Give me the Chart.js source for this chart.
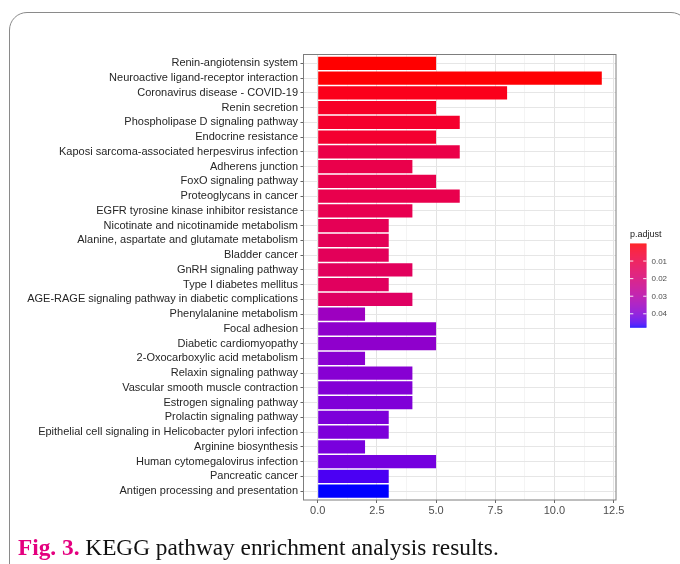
<!DOCTYPE html>
<html>
<head>
<meta charset="utf-8">
<script src="https://cdn.jsdelivr.net/npm/chart.js@4/dist/chart.umd.min.js"></script>
<style>
  html, body { margin: 0; padding: 0; background: #ffffff; }
  #wrap { position: relative; width: 680px; height: 564px; overflow: hidden; }
  #frame {
    position: absolute; left: 9px; top: 12px; width: 680px; height: 600px;
    border: 1px solid #8a8a8a; border-radius: 18px; box-sizing: border-box;
  }
  #plot { position: absolute; left: 0; top: 0; }
  #caption {
    position: absolute; left: 18px; top: 534px;
    font-family: "Liberation Serif", "Times New Roman", serif; font-size: 23.3px;
    color: #111111; white-space: nowrap;
  }
  #caption b { color: #e4007f; }
</style>
</head>
<body>
<div id="wrap">
  <div id="frame"></div>
  <canvas id="plot" width="680" height="564"></canvas>
  <div id="caption"><b>Fig. 3.</b> KEGG pathway enrichment analysis results.</div>
</div>
<script>
// KEGG pathways, top to bottom
const categories = [
  "Renin-angiotensin system",
  "Neuroactive ligand-receptor interaction",
  "Coronavirus disease - COVID-19",
  "Renin secretion",
  "Phospholipase D signaling pathway",
  "Endocrine resistance",
  "Kaposi sarcoma-associated herpesvirus infection",
  "Adherens junction",
  "FoxO signaling pathway",
  "Proteoglycans in cancer",
  "EGFR tyrosine kinase inhibitor resistance",
  "Nicotinate and nicotinamide metabolism",
  "Alanine, aspartate and glutamate metabolism",
  "Bladder cancer",
  "GnRH signaling pathway",
  "Type I diabetes mellitus",
  "AGE-RAGE signaling pathway in diabetic complications",
  "Phenylalanine metabolism",
  "Focal adhesion",
  "Diabetic cardiomyopathy",
  "2-Oxocarboxylic acid metabolism",
  "Relaxin signaling pathway",
  "Vascular smooth muscle contraction",
  "Estrogen signaling pathway",
  "Prolactin signaling pathway",
  "Epithelial cell signaling in Helicobacter pylori infection",
  "Arginine biosynthesis",
  "Human cytomegalovirus infection",
  "Pancreatic cancer",
  "Antigen processing and presentation"
];

// gene count per pathway
const geneCounts = [5, 12, 8, 5, 6, 5, 6, 4, 5, 6, 4, 3, 3, 3, 4, 3, 4, 2, 5, 5, 2, 4, 4, 4, 3, 3, 2, 5, 3, 3];

// adjusted p-value per pathway (fill colour)
const pAdjust = [
  0.00002, 0.0003, 0.0025, 0.0043, 0.0053, 0.0058, 0.0105, 0.0110, 0.0113, 0.0115,
  0.0120, 0.0132, 0.0136, 0.0140, 0.0146, 0.0150, 0.0158, 0.0354, 0.0378, 0.0378,
  0.0387, 0.0392, 0.0397, 0.0402, 0.0406, 0.0406, 0.0411, 0.0416, 0.0454, 0.0478
];

const countTicks = [0, 2.5, 5, 7.5, 10, 12.5];
const pTicks = [0.01, 0.02, 0.03, 0.04];

// ---- red -> blue gradient interpolated in CIELAB ----
const WHITE = [0.95047, 1.0, 1.08883];
function toLin(c) { c /= 255; return c <= 0.04045 ? c / 12.92 : Math.pow((c + 0.055) / 1.055, 2.4); }
function fromLin(c) {
  c = c <= 0.0031308 ? 12.92 * c : 1.055 * Math.pow(c, 1 / 2.4) - 0.055;
  return Math.round(Math.max(0, Math.min(1, c)) * 255);
}
function rgbToLab(rgb) {
  const [R, G, B] = rgb.map(toLin);
  const X = (0.4124 * R + 0.3576 * G + 0.1805 * B) / WHITE[0];
  const Y = (0.2126 * R + 0.7152 * G + 0.0722 * B) / WHITE[1];
  const Z = (0.0193 * R + 0.1192 * G + 0.9505 * B) / WHITE[2];
  const f = t => t > 0.008856 ? Math.cbrt(t) : 7.787 * t + 16 / 116;
  const fx = f(X), fy = f(Y), fz = f(Z);
  return [116 * fy - 16, 500 * (fx - fy), 200 * (fy - fz)];
}
function labToRgb(lab) {
  const fy = (lab[0] + 16) / 116, fx = fy + lab[1] / 500, fz = fy - lab[2] / 200;
  const g = t => t * t * t > 0.008856 ? t * t * t : (t - 16 / 116) / 7.787;
  const X = g(fx) * WHITE[0], Y = g(fy) * WHITE[1], Z = g(fz) * WHITE[2];
  const R = 3.2406 * X - 1.5372 * Y - 0.4986 * Z;
  const G = -0.9689 * X + 1.8758 * Y + 0.0415 * Z;
  const B = 0.0557 * X - 0.2040 * Y + 1.0570 * Z;
  return [fromLin(R), fromLin(G), fromLin(B)];
}
const LAB_LOW = rgbToLab([255, 0, 0]);
const LAB_HIGH = rgbToLab([0, 0, 255]);
const P_MIN = Math.min(...pAdjust), P_MAX = Math.max(...pAdjust);
function pColor(p) {
  const t = Math.max(0, Math.min(1, (p - P_MIN) / (P_MAX - P_MIN)));
  const lab = LAB_LOW.map((v, i) => v + (LAB_HIGH[i] - v) * t);
  const c = labToRgb(lab);
  return `rgb(${c[0]},${c[1]},${c[2]})`;
}

// ---- layout of the plotting panel ----
const PANEL = { left: 303.5, right: 616, top: 54.5, bottom: 500 };
const TICK_FONT = { family: "'Liberation Sans', Arial, sans-serif", size: 11 };

// minor grid positions halfway between the major count ticks
const countMinor = countTicks.slice(0, -1).map((v, i) => (v + countTicks[i + 1]) / 2);

const panelBorder = {
  id: 'panelBorder',
  afterDatasetsDraw(chart) {
    const a = chart.chartArea, c = chart.ctx;
    c.save();
    c.strokeStyle = '#7d7d7d';
    c.lineWidth = 1;
    c.strokeRect(a.left, a.top, a.right - a.left, a.bottom - a.top);
    c.restore();
  }
};

// colour bar legend for p.adjust
const colorBar = {
  id: 'colorBar',
  afterDraw(chart) {
    const c = chart.ctx;
    const x0 = 630, w = 16.5, y0 = 243.5, h = 84;
    c.save();
    for (let i = 0; i < h; i++) {
      const p = P_MIN + (P_MAX - P_MIN) * (i + 0.5) / h;
      c.fillStyle = pColor(p);
      c.fillRect(x0, y0 + i, w, 1.2);
    }
    c.fillStyle = '#1a1a1a';
    c.font = "9px 'Liberation Sans', Arial, sans-serif";
    c.textBaseline = 'alphabetic';
    c.textAlign = 'left';
    c.fillText('p.adjust', x0, 237);
    c.font = "8px 'Liberation Sans', Arial, sans-serif";
    c.fillStyle = '#4d4d4d';
    c.textBaseline = 'middle';
    pTicks.forEach(p => {
      const y = y0 + (p - P_MIN) / (P_MAX - P_MIN) * h;
      c.strokeStyle = 'rgba(255,255,255,0.9)';
      c.lineWidth = 1;
      c.beginPath();
      c.moveTo(x0, y); c.lineTo(x0 + 3.3, y);
      c.moveTo(x0 + w - 3.3, y); c.lineTo(x0 + w, y);
      c.stroke();
      c.fillText(p.toFixed(2), x0 + w + 5, y + 0.5);
    });
    c.restore();
  }
};

new Chart(document.getElementById('plot'), {
  type: 'bar',
  data: {
    datasets: [{
      label: 'Count',
      data: categories.map((name, i) => ({ x: geneCounts[i], y: i + 1 })),
      backgroundColor: pAdjust.map(pColor),
      borderWidth: 0,
      barPercentage: 0.9,
      categoryPercentage: 1.0
    }]
  },
  options: {
    indexAxis: 'y',
    responsive: false,
    animation: false,
    layout: { padding: { left: 0, top: PANEL.top, right: 680 - PANEL.right, bottom: 0 } },
    plugins: { legend: { display: false }, tooltip: { enabled: false } },
    scales: {
      x: {
        type: 'linear',
        min: -0.6,
        max: 12.6,
        afterBuildTicks(scale) {
          scale.ticks = countTicks.concat(countMinor).sort((a, b) => a - b).map(v => ({ value: v }));
        },
        afterFit(scale) { scale.height = 564 - PANEL.bottom; },
        border: { display: false },
        grid: {
          color: ctx => countTicks.includes(ctx.tick.value) ? '#e3e3e3' : '#efefef',
          lineWidth: ctx => countTicks.includes(ctx.tick.value) ? 1 : 0.7,
          tickColor: ctx => countTicks.includes(ctx.tick.value) ? '#666666' : 'rgba(0,0,0,0)',
          tickLength: 3,
          drawTicks: true
        },
        ticks: {
          autoSkip: false,
          maxRotation: 0,
          padding: 1,
          color: '#4d4d4d',
          font: TICK_FONT,
          callback: v => countTicks.includes(v) ? v.toFixed(1) : ''
        }
      },
      y: {
        type: 'linear',
        reverse: true,
        offset: false,
        min: 0.4,
        max: categories.length + 0.6,
        afterBuildTicks(scale) {
          scale.ticks = categories.map((name, i) => ({ value: i + 1 }));
        },
        afterFit(scale) { scale.width = PANEL.left; },
        border: { display: false },
        grid: {
          offset: false,
          color: '#e6e6e6',
          lineWidth: 1,
          tickColor: '#666666',
          tickLength: 3,
          drawTicks: true
        },
        ticks: {
          autoSkip: false,
          padding: 2.5,
          color: '#262626',
          font: TICK_FONT,
          callback: v => categories[v - 1]
        }
      }
    }
  },
  plugins: [panelBorder, colorBar]
});
</script>
</body>
</html>
